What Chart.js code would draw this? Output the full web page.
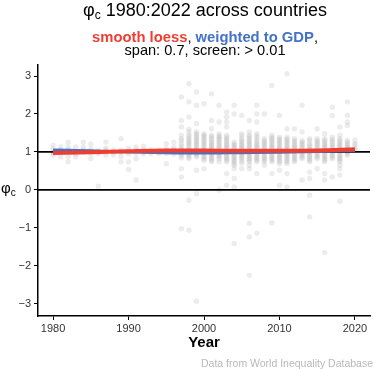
<!DOCTYPE html>
<html>
<head>
<meta charset="utf-8">
<script src="https://cdn.jsdelivr.net/npm/chart.js@4/dist/chart.umd.min.js"></script>
<style>
html,body{margin:0;padding:0;background:#fff;}
#wrap{width:374px;height:369px;position:relative;}
</style>
</head>
<body>
<div id="wrap"><canvas id="c" width="374" height="369"></canvas></div>
<script>
// ---- data ----
const years = [1980,1981,1982,1983,1984,1985,1986,1987,1988,1989,1990,1991,1992,1993,1994,1995,1996,
  1997,1998,1999,2000,2001,2002,2003,2004,2005,2006,2007,2008,2009,2010,2011,2012,2013,2014,2015,2016,2017,2018,2019,2020];
const phiByYear = [
  [1.18,1.08,1.0,0.92,0.97],
  [1.13,1.0,0.87,1.05],
  [1.26,1.13,1.0,0.87,0.74,1.06],
  [1.13,1.0,0.87,0.95],
  [1.26,1.13,1.0,1.05],
  [1.21,1.08,0.95,0.82,1.02],
  [1.0,0.95,0.1,1.04],
  [1.26,1.05,1.0,0.92,1.1],
  [1.05,0.92,1.0],
  [1.35,1.05,0.88,0.74,1.0],
  [1.09,0.95,0.74,0.54,1.02],
  [1.13,0.96,0.82,0.26,1.05],
  [1.15,1.05,0.96,1.0],
  [1.05,0.96,1.01],
  [1.05,0.96,1.0],
  [1.22,1.09,0.96,0.69,1.03],
  [1.26,1.13,1.0,1.06,0.94],
  [2.45,1.83,1.66,1.44,1.35,1.3,1.22,1.16,1.1,1.05,1.0,0.95,0.9,0.84,0.56,0.34,-1.02],
  [2.8,2.32,1.92,1.6,1.53,1.45,1.4,1.35,1.3,1.26,1.22,1.18,1.13,1.08,1.04,1.0,0.96,0.91,0.86,0.82,-0.27,-1.06],
  [2.58,2.23,1.75,1.53,1.48,1.44,1.39,1.35,1.3,1.26,1.22,1.18,1.13,1.09,1.04,1.0,0.95,0.91,0.87,0.52,-0.1,-2.93],
  [2.27,1.48,1.44,1.4,1.35,1.31,1.26,1.22,1.17,1.13,1.08,1.04,1.0,0.96,0.91,0.87,0.82,0.78,0.56],
  [2.53,1.83,1.61,1.44,1.4,1.35,1.3,1.26,1.21,1.17,1.13,1.09,1.04,1.0,0.95,0.91,0.86,0.82,0.78,0.74],
  [2.23,1.79,1.48,1.43,1.39,1.35,1.31,1.26,1.22,1.17,1.13,1.09,1.04,1.0,0.96,0.91,0.87,0.82,0.74,0.0],
  [2.05,1.92,1.79,1.66,1.44,1.39,1.35,1.3,1.26,1.21,1.17,1.13,1.09,1.04,1.0,0.95,0.91,0.86,0.82,0.78,0.74,0.43,0.12],
  [2.23,2.0,1.26,1.21,1.17,1.13,1.09,1.04,1.0,0.95,0.91,0.86,0.82,0.78,0.74,0.69,0.65,0.56,0.3,0.08,-1.41],
  [1.96,1.48,1.43,1.35,1.3,1.26,1.21,1.17,1.13,1.09,1.05,1.0,0.95,0.91,0.86,0.82,0.76,0.7,0.56],
  [1.83,1.53,1.44,1.4,1.35,1.3,1.26,1.22,1.17,1.13,1.09,1.04,1.0,0.96,0.91,0.87,0.82,0.78,0.74,0.65,0.56,-0.88,-1.24,-2.25],
  [2.23,2.0,1.79,1.48,1.42,1.37,1.31,1.26,1.21,1.17,1.13,1.09,1.04,1.0,0.95,0.91,0.86,0.82,0.78,0.74,0.43,-1.14],
  [2.0,1.35,1.3,1.26,1.22,1.18,1.13,1.09,1.04,1.0,0.95,0.91,0.86,0.82,0.78,0.74,0.65],
  [2.75,1.44,1.39,1.35,1.3,1.26,1.21,1.17,1.13,1.09,1.04,1.0,0.95,0.91,0.86,0.82,0.78,0.74,0.43,-0.87],
  [1.96,1.39,1.34,1.3,1.26,1.22,1.17,1.13,1.09,1.05,1.0,0.96,0.91,0.87,0.83,0.78,0.74,0.69,0.52,0.12],
  [3.06,1.61,1.39,1.34,1.3,1.26,1.22,1.17,1.13,1.09,1.05,1.0,0.96,0.91,0.87,0.83,0.78,0.74,0.69,0.43,0.08],
  [1.61,1.35,1.3,1.26,1.21,1.17,1.13,1.09,1.04,1.0,0.95,0.91,0.86,0.82,0.78,0.74],
  [2.23,1.53,1.3,1.26,1.22,1.18,1.13,1.09,1.04,1.0,0.95,0.91,0.86,0.82,0.26],
  [1.35,1.3,1.22,1.17,1.13,1.08,1.04,1.0,0.96,0.91,0.87,0.82,0.78,0.74,0.47,0.3,-0.14,-0.71],
  [1.61,1.35,1.3,1.26,1.22,1.18,1.13,1.09,1.04,1.0,0.95,0.91,0.86,0.82,0.56],
  [1.48,1.35,1.3,1.26,1.21,1.17,1.13,1.09,1.04,1.0,0.95,0.91,0.86,0.82,0.78,0.74,0.43,0.26,-1.65],
  [2.18,1.96,1.39,1.33,1.28,1.23,1.18,1.13,1.09,1.04,1.0,0.95,0.91,0.86,0.82,0.34],
  [1.66,1.44,1.35,1.3,1.26,1.21,1.17,1.13,1.09,1.04,1.0,0.95,0.91,0.86,0.82,0.78,0.74,0.65,0.56,0.39,-0.3],
  [2.32,1.96,1.79,1.7,1.3,1.26,1.21,1.17,1.13,1.09,1.04,1.0,0.95,0.91],
  [1.31,1.22,1.18,1.1,1.05]
];
const smoothYears = [1980,1985,1990,1995,2000,2005,2010,2015,2020];
const loessRed  = [0.97,0.99,1.02,1.04,1.04,1.03,1.03,1.04,1.07];
const gdpBlue   = [1.05,1.03,1.0,0.98,0.97,0.98,0.99,1.01,1.04];
const refLines  = [1, 0];
const xTicks = [1980,1990,2000,2010,2020];
const yTicks = [-3,-2,-1,0,1,2,3];

// ---- build datasets ----
const pts = [];
years.forEach((yr,i)=>phiByYear[i].forEach(v=>pts.push({x:yr,y:v})));
const FONT = '"Liberation Sans", Arial, Helvetica, sans-serif';
const RED = '#EE3E32', BLUE = '#4472C4';

const datasets = [
  {type:'line', data:smoothYears.map((x,i)=>({x, y:loessRed[i]})), borderColor:RED, borderWidth:4,
   pointRadius:0, cubicInterpolationMode:'monotone', order:0, borderCapStyle:'butt'},
  {type:'line', data:smoothYears.map((x,i)=>({x, y:gdpBlue[i]})), borderColor:BLUE, borderWidth:3,
   pointRadius:0, cubicInterpolationMode:'monotone', order:1},
];
refLines.forEach(v=>datasets.push({type:'line', data:[{x:1978,y:v},{x:2022,y:v}], borderColor:'#000',
   borderWidth:1.8, pointRadius:0, order:2}));
datasets.push({type:'scatter', data:pts, backgroundColor:'rgba(170,170,170,0.22)', borderWidth:0,
   pointRadius:2.7, order:3});

const CX = 205;
const textPlugin = {
  id:'texts',
  afterDraw(chart){
    const ctx = chart.ctx;
    ctx.save();
    ctx.textBaseline = 'alphabetic';
    // title with subscript
    const tf = '18px ' + FONT, sf = '12px ' + FONT;
    const parts = [['φ',tf,0],['c',sf,3],[' 1980:2022 across countries',tf,0]];
    let w = 0;
    parts.forEach(p=>{ctx.font=p[1]; w+=ctx.measureText(p[0]).width;});
    let x = CX - w/2;
    ctx.fillStyle = '#000';
    ctx.textAlign = 'left';
    parts.forEach(p=>{ctx.font=p[1]; ctx.fillText(p[0], x, 16 + p[2]); x += ctx.measureText(p[0]).width;});
    // subtitle line 1
    const bf = 'bold 14.8px ' + FONT, nf = '14.6px ' + FONT;
    const sub = [['smooth loess',bf,RED],[', ',nf,'#000'],['weighted to GDP',bf,BLUE],[',',nf,'#000']];
    w = 0;
    sub.forEach(p=>{ctx.font=p[1]; w+=ctx.measureText(p[0]).width;});
    x = CX - w/2;
    sub.forEach(p=>{ctx.font=p[1]; ctx.fillStyle=p[2]; ctx.fillText(p[0], x, 42); x += ctx.measureText(p[0]).width;});
    // subtitle line 2
    ctx.font = nf; ctx.fillStyle = '#000'; ctx.textAlign = 'center';
    ctx.fillText('span: 0.7, screen: > 0.01', CX, 55);
    // y axis label
    ctx.textAlign = 'left';
    ctx.font = '15px ' + FONT; ctx.fillText('φ', 1, 193);
    const pw = ctx.measureText('φ').width;
    ctx.font = '10px ' + FONT; ctx.fillText('c', 1 + pw, 196);
    // caption
    ctx.font = '10.5px ' + FONT; ctx.fillStyle = '#b8b8b8'; ctx.textAlign = 'right';
    ctx.fillText('Data from World Inequality Database', 373, 367);
    ctx.restore();
  }
};

new Chart(document.getElementById('c'), {
  type:'scatter',
  data:{datasets},
  options:{
    responsive:false, animation:false,
    layout:{padding:{top:65, left:0, right:1, bottom:0}},
    plugins:{legend:{display:false}, tooltip:{enabled:false}, title:{display:false}},
    scales:{
      x:{type:'linear', min:1978, max:2022,
        afterBuildTicks:s=>{s.ticks = xTicks.map(v=>({value:v}));},
        afterFit:s=>{s.height = 53;},
        grid:{display:true, drawOnChartArea:false, drawTicks:true, tickLength:4, color:'#000', lineWidth:1},
        border:{display:true, color:'#000', width:1.5},
        ticks:{color:'#333', font:{family:FONT, size:11}, padding:2, maxRotation:0, autoSkip:false,
          callback:v=>String(v)},
        title:{display:true, text:'Year', color:'#000', font:{family:FONT, size:15, weight:'bold'}, padding:{top:0,bottom:17}}
      },
      y:{type:'linear', min:-3.32, max:3.29,
        afterBuildTicks:s=>{s.ticks = yTicks.map(v=>({value:v}));},
        afterFit:s=>{s.width = 38;},
        grid:{display:true, drawOnChartArea:false, drawTicks:true, tickLength:4, color:'#000', lineWidth:1},
        border:{display:true, color:'#000', width:1.5},
        ticks:{color:'#333', font:{family:FONT, size:11}, padding:3,
          callback:v=>String(v).replace('-', '\u2212')}
      }
    }
  },
  plugins:[textPlugin]
});
</script>
</body>
</html>
